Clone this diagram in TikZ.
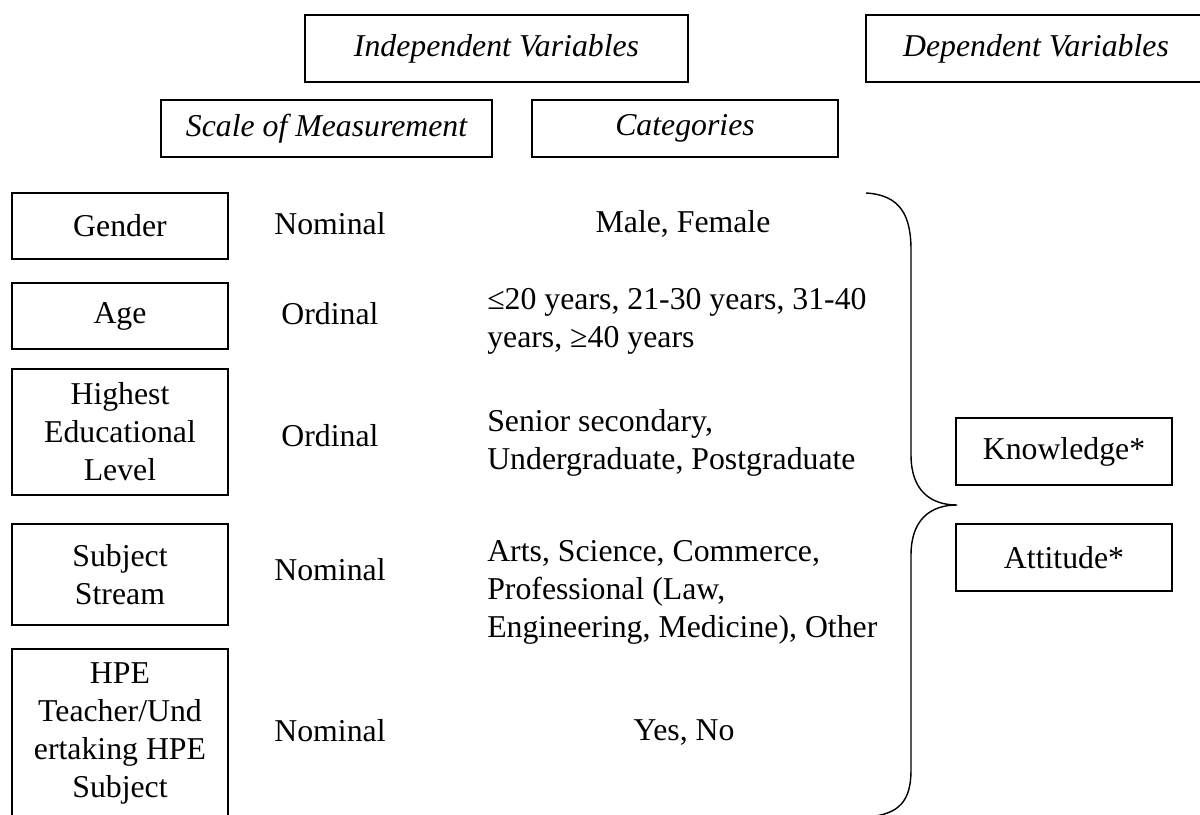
\documentclass[tikz,border=0pt]{standalone}
\usepackage{fontspec}
\setmainfont{Liberation Serif}
\usepackage{tikz}
\usetikzlibrary{positioning}

\begin{document}
\begin{tikzpicture}[
    x=0.025cm,y=-0.025cm,
    font=\fontsize{22.6}{27}\selectfont,
    v/.style={draw=black,line width=1.3pt,inner sep=0pt,align=center,
              minimum width=5.4cm,minimum height=1.65cm},
    hdr/.style={v,font=\fontsize{22.6}{27}\selectfont\itshape,minimum height=1.675cm},
    lbl/.style={inner sep=0pt,align=left}
  ]
    \useasboundingbox (0,0) rectangle (1200,814);
    \clip (0,0) rectangle (1200,814);
    % headers
    \node[hdr,minimum width=9.575cm] (indep) at (496.5,48.5) {Independent Variables};
    \node[hdr,minimum width=8.5cm] (dep) at (1036,48.5) {Dependent Variables};
    \node[hdr,minimum width=8.275cm,minimum height=1.425cm] (scale) at (326.5,128.5) {Scale of Measurement};
    \node[hdr,minimum width=7.65cm,minimum height=1.425cm] (cats) at (685,128.5) {Categories};
    % independent variables
    \node[v] (gender) at (120,226) {Gender};
    \node[v] (age) at (120,316) {Age};
    \node[v,minimum height=3.15cm] (edu) at (120,432) {Highest\\Educational\\Level};
    \node[v,minimum height=2.525cm] (stream) at (120,574.5) {Subject\\Stream};
    \node[v,minimum height=4.225cm] (hpe) at (120,733.5) {HPE\\Teacher/Und\\ertaking HPE\\Subject};
    % scale of measurement
    \node[lbl] (gender-s) at (330,224) {Nominal};
    \node[lbl] (age-s) at (330,314) {Ordinal};
    \node[lbl] (edu-s) at (330,436) {Ordinal};
    \node[lbl] (stream-s) at (330,570) {Nominal};
    \node[lbl] (hpe-s) at (330,731) {Nominal};
    % categories
    \node[lbl] (gender-c) at (683,224) {Male, Female};
    \node[lbl,anchor=west] (age-c) at (487,321) {≤20 years, 21-30 years, 31-40\\years, ≥40 years};
    \node[lbl,anchor=west] (edu-c) at (487,443) {Senior secondary,\\Undergraduate, Postgraduate};
    \node[lbl,anchor=west] (stream-c) at (487,592) {Arts, Science, Commerce,\\Professional (Law,\\Engineering, Medicine), Other};
    \node[lbl] (hpe-c) at (684,733) {Yes, No};
    % dependent variables
    \node[v,minimum height=1.675cm] (know) at (1064,451.5) {Knowledge*};
    \node[v,minimum height=1.675cm] (att) at (1064,557.5) {Attitude*};
    % brace
    \coordinate (btop) at (866,193);
    \coordinate (tip) at (957,505);
    \coordinate (bbot) at (866,817);
    \draw[line width=1pt] (btop) .. controls (900,195) and (911,215) .. (911,250)
      -- (911,455) .. controls (911,490) and (930,505) .. (tip)
      .. controls (930,505) and (911,520) .. (911,555)
      -- (911,770) .. controls (911,800) and (900,815) .. (bbot);
  \end{tikzpicture}
\end{document}
